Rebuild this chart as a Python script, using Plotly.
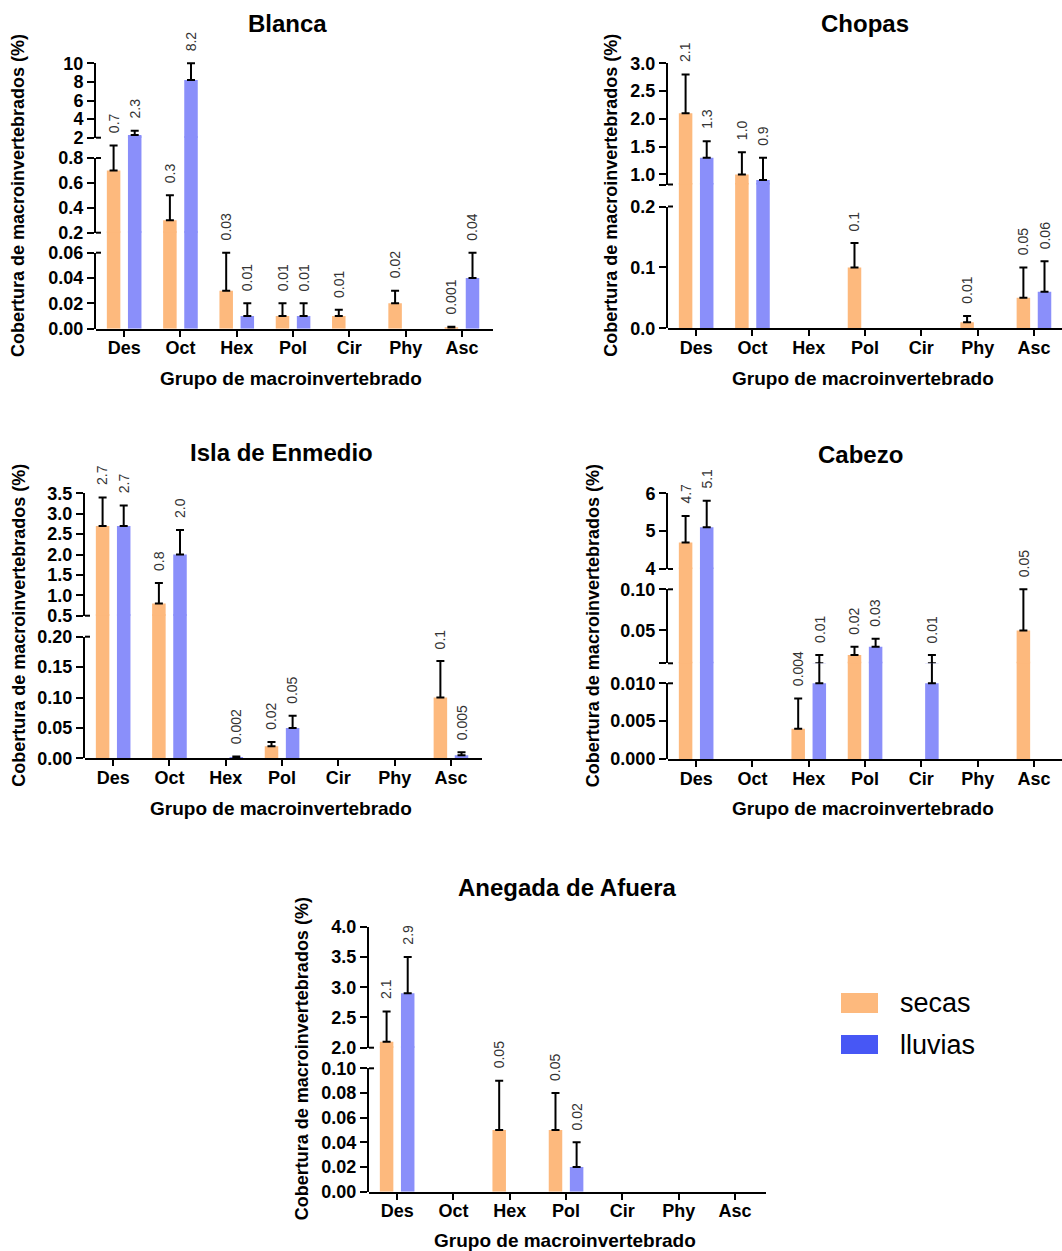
import plotly.graph_objects as go

# ------------------------------------------------------------------ data
categories = ["Des", "Oct", "Hex", "Pol", "Cir", "Phy", "Asc"]
series_names = ["secas", "lluvias"]

# Blanca
blanca_secas = [0.7, 0.3, 0.03, 0.01, 0.01, 0.02, 0.001]
blanca_secas_err = [0.2, 0.2, 0.03, 0.01, 0.005, 0.01, 0.0006]
blanca_lluvias = [2.3, 8.2, 0.01, 0.01, None, None, 0.04]
blanca_lluvias_err = [0.45, 1.8, 0.01, 0.01, None, None, 0.02]
blanca_secas_lbl = ["0.7", "0.3", "0.03", "0.01", "0.01", "0.02", "0.001"]
blanca_lluvias_lbl = ["2.3", "8.2", "0.01", "0.01", "", "", "0.04"]

# Chopas
chopas_secas = [2.1, 1.0, None, 0.1, None, 0.01, 0.05]
chopas_secas_err = [0.7, 0.4, None, 0.04, None, 0.01, 0.05]
chopas_lluvias = [1.3, 0.9, None, None, None, None, 0.06]
chopas_lluvias_err = [0.3, 0.4, None, None, None, None, 0.05]
chopas_secas_lbl = ["2.1", "1.0", "", "0.1", "", "0.01", "0.05"]
chopas_lluvias_lbl = ["1.3", "0.9", "", "", "", "", "0.06"]

# Isla de Enmedio
isla_secas = [2.7, 0.8, None, 0.02, None, None, 0.1]
isla_secas_err = [0.7, 0.5, None, 0.007, None, None, 0.06]
isla_lluvias = [2.7, 2.0, 0.002, 0.05, None, None, 0.005]
isla_lluvias_err = [0.5, 0.6, 0.001, 0.02, None, None, 0.005]
isla_secas_lbl = ["2.7", "0.8", "", "0.02", "", "", "0.1"]
isla_lluvias_lbl = ["2.7", "2.0", "0.002", "0.05", "", "", "0.005"]

# Cabezo
cabezo_secas = [4.7, None, 0.004, 0.02, None, None, 0.05]
cabezo_secas_err = [0.7, None, 0.004, 0.01, None, None, 0.05]
cabezo_lluvias = [5.1, None, 0.01, 0.03, 0.01, None, None]
cabezo_lluvias_err = [0.7, None, 0.01, 0.01, 0.01, None, None]
cabezo_secas_lbl = ["4.7", "", "0.004", "0.02", "", "", "0.05"]
cabezo_lluvias_lbl = ["5.1", "", "0.01", "0.03", "0.01", "", ""]

# Anegada de Afuera
anegada_secas = [2.1, None, 0.05, 0.05, None, None, None]
anegada_secas_err = [0.5, None, 0.04, 0.03, None, None, None]
anegada_lluvias = [2.9, None, None, 0.02, None, None, None]
anegada_lluvias_err = [0.6, None, None, 0.02, None, None, None]
anegada_secas_lbl = ["2.1", "", "0.05", "0.05", "", "", ""]
anegada_lluvias_lbl = ["2.9", "", "", "0.02", "", "", ""]

# broken y-axis segments (bottom -> top): value spans, tick values, tick labels
blanca_spans = [(0, 0.06), (0.2, 0.8), (2, 10)]
blanca_tickvals = [[0, 0.02, 0.04, 0.06], [0.2, 0.4, 0.6, 0.8], [2, 4, 6, 8, 10]]
blanca_ticktext = [["0.00", "0.02", "0.04", "0.06"], ["0.2", "0.4", "0.6", "0.8"], ["2", "4", "6", "8", "10"]]

chopas_spans = [(0, 0.2), (0.82, 3.0)]
chopas_tickvals = [[0, 0.1, 0.2], [1.0, 1.5, 2.0, 2.5, 3.0]]
chopas_ticktext = [["0.0", "0.1", "0.2"], ["1.0", "1.5", "2.0", "2.5", "3.0"]]

isla_spans = [(0, 0.2), (0.5, 3.5)]
isla_tickvals = [[0, 0.05, 0.10, 0.15, 0.20], [0.5, 1.0, 1.5, 2.0, 2.5, 3.0, 3.5]]
isla_ticktext = [["0.00", "0.05", "0.10", "0.15", "0.20"],
                 ["0.5", "1.0", "1.5", "2.0", "2.5", "3.0", "3.5"]]

cabezo_spans = [(0, 0.010), (0.01, 0.10), (4, 6)]
cabezo_tickvals = [[0, 0.005, 0.010], [0.05, 0.10], [4, 5, 6]]
cabezo_ticktext = [["0.000", "0.005", "0.010"], ["0.05", "0.10"], ["4", "5", "6"]]

anegada_spans = [(0, 0.10), (2.0, 4.0)]
anegada_tickvals = [[0, 0.02, 0.04, 0.06, 0.08, 0.10], [2.0, 2.5, 3.0, 3.5, 4.0]]
anegada_ticktext = [["0.00", "0.02", "0.04", "0.06", "0.08", "0.10"],
                    ["2.0", "2.5", "3.0", "3.5", "4.0"]]

PANELS = [
    dict(name="Blanca", vals=[blanca_secas, blanca_lluvias], errs=[blanca_secas_err, blanca_lluvias_err],
         lbls=[blanca_secas_lbl, blanca_lluvias_lbl], spans=blanca_spans,
         tickvals=blanca_tickvals, ticktext=blanca_ticktext),
    dict(name="Chopas", vals=[chopas_secas, chopas_lluvias], errs=[chopas_secas_err, chopas_lluvias_err],
         lbls=[chopas_secas_lbl, chopas_lluvias_lbl], spans=chopas_spans,
         tickvals=chopas_tickvals, ticktext=chopas_ticktext),
    dict(name="Isla de Enmedio", vals=[isla_secas, isla_lluvias], errs=[isla_secas_err, isla_lluvias_err],
         lbls=[isla_secas_lbl, isla_lluvias_lbl], spans=isla_spans,
         tickvals=isla_tickvals, ticktext=isla_ticktext),
    dict(name="Cabezo", vals=[cabezo_secas, cabezo_lluvias], errs=[cabezo_secas_err, cabezo_lluvias_err],
         lbls=[cabezo_secas_lbl, cabezo_lluvias_lbl], spans=cabezo_spans,
         tickvals=cabezo_tickvals, ticktext=cabezo_ticktext),
    dict(name="Anegada de Afuera", vals=[anegada_secas, anegada_lluvias],
         errs=[anegada_secas_err, anegada_lluvias_err],
         lbls=[anegada_secas_lbl, anegada_lluvias_lbl], spans=anegada_spans,
         tickvals=anegada_tickvals, ticktext=anegada_ticktext),
]

# ------------------------------------------------------------------ layout / style
W, H = 1062, 1251
FONT = "Liberation Sans, Arial, Helvetica, sans-serif"
BAR_COLORS = ["#FDB97D", "#8A8FFA"]
LEGEND_COLORS = ["#FDB97D", "#4757F5"]
SPACING = 56.3          # px per category
TOP_EXT = 6             # px of headroom above the top segment
OVERLAP = 1.5           # px overlap between stacked data segments (hides seams)
SLOT = 0.375            # half of a category group (category units)
BAR_W = 0.24
OFFSETS = [-SLOT / 2, SLOT / 2]

# pixel placement of each panel (segments: (bottom px, top px), bottom -> top)
PLACE = {
    "Blanca": dict(left=96, right=493, seg_px=[(328.7, 252.7), (232.7, 158.0), (137.7, 63.3)],
                   title=(287, 23), xtitle=(291, 378), ytitle_x=18),
    "Chopas": dict(left=668, right=1062, seg_px=[(328.3, 206.5), (184.5, 63.3)],
                   title=(865, 23), xtitle=(863, 378), ytitle_x=611),
    "Isla de Enmedio": dict(left=85, right=482, seg_px=[(758.3, 636.7), (615.7, 493.3)],
                            title=(281, 453), xtitle=(281, 808), ytitle_x=19),
    "Cabezo": dict(left=668, right=1062, seg_px=[(759.0, 683.3), (663.3, 589.3), (569.0, 493.3)],
                   title=(860, 454), xtitle=(863, 808), ytitle_x=593),
    "Anegada de Afuera": dict(left=369, right=766, seg_px=[(1191.7, 1068.3), (1047.7, 926.7)],
                              title=(567, 887), xtitle=(565, 1240), ytitle_x=302),
}


def fx(px):
    return px / W


def fy(py):
    return 1 - py / H


fig = go.Figure()
layout = dict(width=W, height=H, margin=dict(l=0, r=0, t=0, b=0, pad=0, autoexpand=False),
              paper_bgcolor="white", plot_bgcolor="rgba(0,0,0,0)",
              showlegend=False, barmode="overlay", autosize=False)
annotations, shapes = [], []
ycount = 0

for pi, p in enumerate(PANELS):
    pl = PLACE[p["name"]]
    xnum = pi + 1
    xname = "x" if xnum == 1 else f"x{xnum}"
    xkey = "xaxis" if xnum == 1 else f"xaxis{xnum}"
    segs = pl["seg_px"]
    spans = p["spans"]
    n = len(segs)

    # ---- data axes (bars live here, each covers its segment plus the gap above it)
    data_axes = []
    for k in range(n):
        lo, hi = spans[k]
        plo, phi = segs[k]
        ptop = segs[k + 1][0] - OVERLAP if k + 1 < n else phi - TOP_EXT
        hi_ext = lo + (hi - lo) * (plo - ptop) / (plo - phi)
        ycount += 1
        yname = "y" if ycount == 1 else f"y{ycount}"
        ykey = "yaxis" if ycount == 1 else f"yaxis{ycount}"
        layout[ykey] = dict(domain=[fy(plo), fy(ptop)], range=[lo, hi_ext], visible=False,
                            anchor=xname, fixedrange=True, showgrid=False, zeroline=False,
                            automargin=False)
        data_axes.append((yname, lo, hi_ext))
        for s in range(2):
            errs = [e if e is not None else 0 for e in p["errs"][s]]
            fig.add_trace(go.Bar(
                x=categories, y=p["vals"][s], xaxis=xname, yaxis=yname,
                width=BAR_W, offset=OFFSETS[s] - BAR_W / 2,
                marker=dict(color=BAR_COLORS[s], line=dict(width=0)),
                error_y=dict(type="data", array=errs, arrayminus=[0] * len(errs), symmetric=False,
                             color="black", thickness=2, width=4),
                name=series_names[s], hoverinfo="skip", showlegend=False))
        if k == 0:
            bottom_y = yname

    # ---- x axis
    layout[xkey] = dict(domain=[fx(pl["left"]), fx(pl["right"])],
                        range=[-0.5, -0.5 + (pl["right"] - pl["left"]) / SPACING],
                        type="category", categoryorder="array", categoryarray=categories,
                        anchor=bottom_y, showline=True, linewidth=2, linecolor="black",
                        ticks="outside", ticklen=6, tickwidth=2, tickcolor="black",
                        ticklabelstandoff=-4,
                        tickfont=dict(family=FONT, size=18, color="black", weight="bold"),
                        showgrid=False, zeroline=False, fixedrange=True, automargin=False)

    # ---- display axes (the visible broken y axis)
    for k in range(n):
        lo, hi = spans[k]
        plo, phi = segs[k]
        tv = list(p["tickvals"][k])
        tt = list(p["ticktext"][k])
        ends = []
        if k > 0:
            ends.append((lo, plo))
        if k < n - 1:
            ends.append((hi, phi))
        for val, ppx in ends:
            if not any(abs(val - t) < 1e-9 for t in tv):
                tv.append(val)
                tt.append("")
            shapes.append(dict(type="line", xref="paper", yref="paper",
                               x0=fx(pl["left"]), x1=fx(pl["left"] + 5), y0=fy(ppx), y1=fy(ppx),
                               line=dict(color="black", width=2)))
        ycount += 1
        yname = "y" if ycount == 1 else f"y{ycount}"
        ykey = "yaxis" if ycount == 1 else f"yaxis{ycount}"
        layout[ykey] = dict(domain=[fy(plo), fy(phi)], range=[lo, hi], anchor=xname,
                            showline=True, linewidth=2, linecolor="black",
                            ticks="outside", ticklen=7, tickwidth=2, tickcolor="black",
                            tickmode="array", tickvals=tv, ticktext=tt,
                            tickfont=dict(family=FONT, size=18, color="black", weight="bold"),
                            showgrid=False, zeroline=False, fixedrange=True, automargin=False)
        # invisible placeholder so that this axis segment gets drawn
        fig.add_trace(go.Scatter(x=categories, y=[lo] * len(categories), xaxis=xname, yaxis=yname,
                                 mode="markers", marker=dict(opacity=0, size=1),
                                 hoverinfo="skip", showlegend=False))

    # ---- value labels above the error bars
    for s in range(2):
        for i, v in enumerate(p["vals"][s]):
            if v is None or not p["lbls"][s][i]:
                continue
            top = v + (p["errs"][s][i] or 0)
            yref = None
            for yname, lo, hi_ext in data_axes:
                if lo <= top <= hi_ext:
                    yref = yname
                    break
            if yref is None:
                continue
            annotations.append(dict(
                x=i + OFFSETS[s], y=top, xref=xname, yref=yref, text=p["lbls"][s][i],
                textangle=-90, xanchor="center", yanchor="bottom", yshift=10, showarrow=False,
                font=dict(family=FONT, size=14, color="#333333")))

    # ---- titles
    tx, ty = pl["title"]
    annotations.append(dict(x=fx(tx), y=fy(ty), xref="paper", yref="paper", text=p["name"],
                            showarrow=False, xanchor="center", yanchor="middle",
                            font=dict(family=FONT, size=24, color="black", weight="bold")))
    gx, gy = pl["xtitle"]
    annotations.append(dict(x=fx(gx), y=fy(gy), xref="paper", yref="paper",
                            text="Grupo de macroinvertebrado",
                            showarrow=False, xanchor="center", yanchor="middle",
                            font=dict(family=FONT, size=19, color="black", weight="bold")))
    ymid = (segs[0][0] + segs[-1][1]) / 2
    annotations.append(dict(x=fx(pl["ytitle_x"]), y=fy(ymid), xref="paper", yref="paper",
                            text="Cobertura de macroinvertebrados (%)", textangle=-90,
                            showarrow=False, xanchor="center", yanchor="middle",
                            font=dict(family=FONT, size=18, color="black", weight="bold")))

# ---- manual legend
LEG = [(993, 1013), (1035, 1054)]
for s in range(2):
    y0, y1 = LEG[s]
    shapes.append(dict(type="rect", xref="paper", yref="paper",
                       x0=fx(841), x1=fx(878), y0=fy(y1), y1=fy(y0),
                       fillcolor=LEGEND_COLORS[s], line=dict(width=0)))
    annotations.append(dict(x=fx(898), y=fy((y0 + y1) / 2), xref="paper", yref="paper",
                            text=series_names[s], showarrow=False, xanchor="left", yanchor="middle",
                            font=dict(family=FONT, size=27, color="black")))

layout["annotations"] = annotations
layout["shapes"] = shapes
fig.update_layout(**layout)
fig.write_html("out.html", config={"displayModeBar": False, "responsive": False},
               post_script="document.documentElement.style.margin='0';"
                           "document.body.style.margin='0';document.body.style.padding='0';")
